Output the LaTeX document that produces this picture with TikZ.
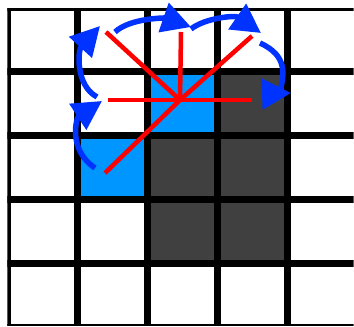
\documentclass[tikz,border=0pt]{standalone}
\usetikzlibrary{arrows.meta}
\definecolor{cellblue}{RGB}{0,150,255}
\definecolor{celldark}{RGB}{64,64,64}
\definecolor{arcblue}{RGB}{0,51,255}
\begin{document}
\begin{tikzpicture}[x=0.02cm,y=-0.02cm,
  cellgrid/.style={line width=0.14cm,black},
  ray/.style={line width=0.09cm,red},
  sweep/.style={line width=0.11cm,arcblue,-{Triangle[length=0.58cm,width=0.6cm]}}]
\useasboundingbox (0,0) rectangle (354,327);
\fill[white] (0,0) rectangle (354,327);
% coloured cells
\foreach \i/\j/\c in {2/1/cellblue,1/2/cellblue,3/1/celldark,2/2/celldark,3/2/celldark,2/3/celldark,3/3/celldark} {
  \pgfmathsetmacro{\x}{7.4+\i*70.07}
  \pgfmathsetmacro{\y}{7.8+\j*64}
  \fill[\c] (\x,\y) rectangle (\x+70.07,\y+64);
}
% grid lines, outer ones half hidden
\begin{scope}
\clip (7.3,8.3) rectangle (353.5,325);
\foreach \k in {0,...,5} {
  \pgfmathsetmacro{\x}{7.4+\k*70.07}
  \pgfmathsetmacro{\y}{7.8+\k*64}
  \draw[cellgrid] (\x,0) -- (\x,327);
  \draw[cellgrid] (0,\y) -- (354,\y);
}
\end{scope}
% red rays from the hub
\coordinate (hub) at (180,100);
\coordinate (rayW) at (108,100);
\coordinate (rayE) at (252,100);
\coordinate (rayN) at (181,32);
\coordinate (rayNW) at (106,32);
\coordinate (rayNE) at (252,36);
\coordinate (raySW) at (105,173);
\foreach \r in {W,E,N,NW,NE,SW} \draw[ray] (hub) -- (ray\r);
% blue sweep, five arcs
\coordinate (s1) at (95,168);  \coordinate (t1) at (102,101);
\coordinate (s2) at (97,97);   \coordinate (t2) at (100,26);
\coordinate (s3) at (115,32);  \coordinate (t3) at (191,27);
\coordinate (s4) at (191,29);  \coordinate (t4) at (261,33);
\coordinate (s5) at (260,43);  \coordinate (t5) at (291,93);
\coordinate (k5) at (280,92);  \coordinate (b5) at (262,94);
\draw[sweep] (s1) .. controls (68,150) and (76,118) .. (t1);
\draw[sweep] (s2) .. controls (75,85) and (78,50) .. (t2);
\draw[sweep] (s3) .. controls (130,18) and (165,18) .. (t3);
\draw[sweep] (s4) .. controls (205,18) and (235,15) .. (t4);
\draw[sweep,-] (s5) .. controls (288,56) and (284,74) .. (k5);
\draw[sweep] (b5) -- (t5);
\end{tikzpicture}
\end{document}
